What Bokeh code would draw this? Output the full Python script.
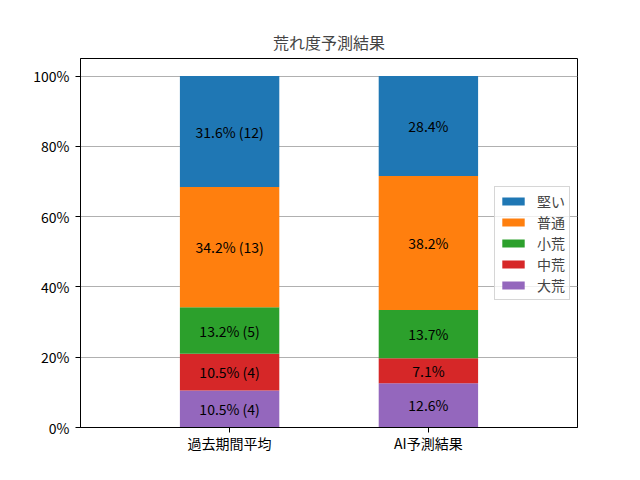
from bokeh.plotting import figure
from bokeh.models import (ColumnDataSource, FactorRange, Range1d, FixedTicker,
                          PrintfTickFormatter, Legend, LegendItem)
from bokeh.core.properties import value
from bokeh.embed import file_html
from bokeh.resources import INLINE

# ---- data ----
categories = ["過去期間平均", "AI予測結果"]
levels = ["大荒", "中荒", "小荒", "普通", "堅い"]          # bottom -> top
colors = ["#9467bd", "#d62728", "#2ca02c", "#ff7f0e", "#1f77b4"]
daiare = [10.5, 12.6]
chuare = [10.5, 7.1]
shoare = [13.2, 13.7]
futsu = [34.2, 38.2]
katai = [31.6, 28.4]
past_counts = [4, 4, 5, 13, 12]   # counts shown for 過去期間平均 (same order as levels)
y_ticks = [0, 20, 40, 60, 80, 100]
title = "荒れ度予測結果"

FONT = "Noto Sans CJK JP"

series = [daiare, chuare, shoare, futsu, katai]
data = {"cat": categories}
for lvl, vals in zip(levels, series):
    data[lvl] = vals
source = ColumnDataSource(data)

p = figure(width=624, height=464, x_range=FactorRange(*categories, range_padding=0.25),
           y_range=Range1d(0, 105), output_backend="svg", toolbar_location=None,
           title=title)
p.min_border_left = 80
p.min_border_right = 47
p.min_border_top = 58
p.min_border_bottom = 37

renderers = p.vbar_stack(levels, x="cat", width=0.5, color=colors, line_color=None,
                         source=source)

# labels
for ci, cat in enumerate(categories):
    base = 0.0
    xs, ys, ts = [], [], []
    for li, vals in enumerate(series):
        v = vals[ci]
        xs.append(cat)
        ys.append(base + v / 2)
        if ci == 0:
            ts.append(f"{v:.1f}% ({past_counts[li]})")
        else:
            ts.append(f"{v:.1f}%")
        base += v
    p.text(x=xs, y=ys, text=ts, text_align="center", text_baseline="middle",
           text_font=value(FONT), text_font_size="14px", text_color="black")

# legend (top of stack first)
items = [LegendItem(label=lvl, renderers=[r]) for lvl, r in zip(levels[::-1], renderers[::-1])]
legend = Legend(items=items, location="right")
legend.margin = 7
legend.padding = 4
legend.spacing = 1
legend.glyph_width = 28
legend.glyph_height = 10
legend.label_height = 14
legend.label_standoff = 10
legend.label_text_font = FONT
legend.label_text_font_size = "14px"
legend.border_line_color = "#cccccc"
legend.border_line_alpha = 0.8
legend.background_fill_alpha = 0.8
p.add_layout(legend)

# title
p.title.text_font = FONT
p.title.text_font_size = "16px"
p.title.text_font_style = "normal"
p.title.align = "center"

# axes
p.yaxis.ticker = FixedTicker(ticks=y_ticks)
p.yaxis.formatter = PrintfTickFormatter(format="%d%%")
for ax in (p.xaxis, p.yaxis):
    ax.major_label_text_font = FONT
    ax.major_label_text_font_size = "14px"
    ax.major_label_text_color = "black"
    ax.axis_line_color = "black"
    ax.major_tick_line_color = "black"
    ax.major_tick_in = 0
    ax.major_tick_out = 5
    ax.minor_tick_line_color = None
p.yaxis.major_label_standoff = 6
p.xaxis.major_label_standoff = 0
p.xaxis.group_text_font_size = "0px"

p.xgrid.grid_line_color = None
p.ygrid.grid_line_color = "#b0b0b0"
p.ygrid.grid_line_width = 1
p.outline_line_color = "black"
p.outline_line_alpha = 1
p.outline_line_width = 1
p.background_fill_color = "white"
p.border_fill_color = "white"

open("out.html", "w").write(file_html(p, INLINE))
